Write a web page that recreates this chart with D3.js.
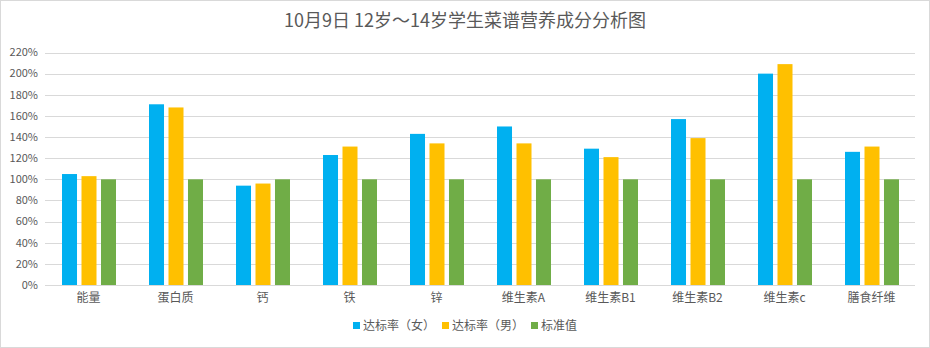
<!DOCTYPE html>
<html><head><meta charset="utf-8">
<script src="https://cdn.jsdelivr.net/npm/d3@7"></script>
<style>body{margin:0;background:#fff;}svg{display:block;font-family:"Noto Sans CJK SC","Microsoft YaHei",sans-serif;}</style>
</head><body><svg id="c" width="930" height="348"></svg>
<script>
const categories = ["能量","蛋白质","钙","铁","锌","维生素A","维生素B1","维生素B2","维生素c","膳食纤维"];
const seriesNames = ["达标率（女）","达标率（男）","标准值"];
const female = [1.05,1.71,0.94,1.23,1.43,1.50,1.29,1.57,2.00,1.26];
const male = [1.03,1.68,0.96,1.31,1.34,1.34,1.21,1.39,2.09,1.31];
const standard = [1.00,1.00,1.00,1.00,1.00,1.00,1.00,1.00,1.00,1.00];
const yTicks = [0,0.2,0.4,0.6,0.8,1.0,1.2,1.4,1.6,1.8,2.0,2.2];
const colors = ["#00B0F0","#FFC000","#70AD47"];
const title = "10月9日 12岁～14岁学生菜谱营养成分分析图";

(function(){
const svg = d3.select("#c");
svg.append("rect").attr("x",0.5).attr("y",0.5).attr("width",929).attr("height",347)
  .attr("fill","#fff").attr("stroke","#D9D9D9");

const pl=45,pr=915,pt=52.5,pb=285;
const x = d3.scaleBand().domain(categories).range([pl,pr]);
const y = d3.scaleLinear().domain([0,2.2]).range([pb,pt]);
const xs = d3.scaleBand().domain(seriesNames).range([0,54]).paddingInner(0.23);

svg.append("g").selectAll("line").data(yTicks).join("line")
  .attr("x1",pl).attr("x2",pr).attr("y1",d=>Math.round(y(d))+0.5).attr("y2",d=>Math.round(y(d))+0.5)
  .attr("stroke","#D9D9D9").attr("stroke-width",1);

svg.append("g").selectAll("text").data(yTicks).join("text")
  .attr("x",38).attr("y",d=>y(d)).attr("dy","0.35em").attr("text-anchor","end")
  .attr("font-size",11).attr("fill","#595959").text(d=>Math.round(d*100)+"%");

const data = [female,male,standard];
data.forEach((vals,si)=>{
  svg.append("g").selectAll("rect").data(vals).join("rect")
    .attr("x",(d,i)=>x(categories[i])+x.bandwidth()/2-26.5+xs(seriesNames[si]))
    .attr("width",xs.bandwidth())
    .attr("y",d=>y(d)).attr("height",d=>y(0)-y(d))
    .attr("fill",colors[si]);
});

svg.append("g").selectAll("text").data(categories).join("text")
  .attr("x",d=>x(d)+x.bandwidth()/2).attr("y",302).attr("text-anchor","middle")
  .attr("font-size",12).attr("fill","#595959").text(d=>d);

svg.append("text").attr("x",465).attr("y",27).attr("text-anchor","middle")
  .attr("font-size",18).attr("fill","#595959").text(title);

const lx=[353,442,531];
const lg = svg.append("g");
seriesNames.forEach((n,i)=>{
  lg.append("rect").attr("x",lx[i]).attr("y",322).attr("width",7).attr("height",7).attr("fill",colors[i]);
  lg.append("text").attr("x",lx[i]+10).attr("y",330).attr("font-size",12).attr("fill","#595959").text(n);
});
})();
</script></body></html>
